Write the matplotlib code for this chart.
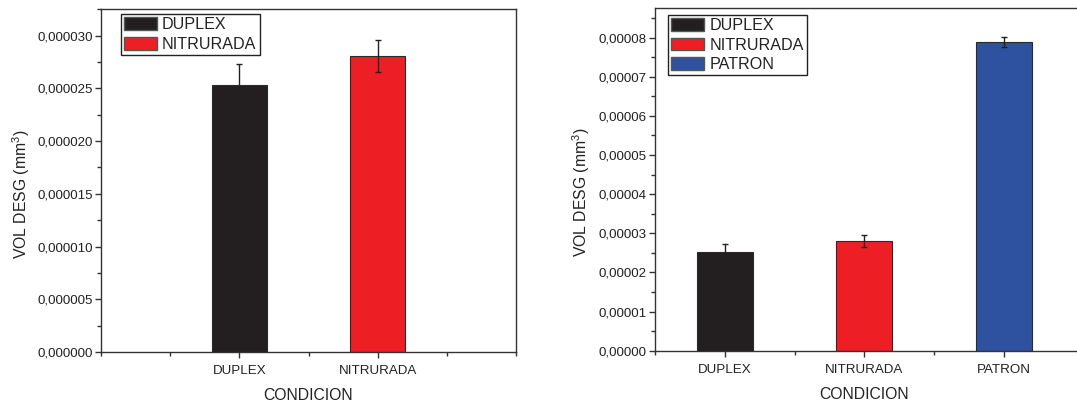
import matplotlib
matplotlib.use("Agg")
import matplotlib.pyplot as plt
from matplotlib.ticker import FuncFormatter, MultipleLocator, FixedLocator
from matplotlib.patches import Patch

# ---- data ----
cats_left = ["DUPLEX", "NITRURADA"]
vals_left = [2.53e-5, 2.81e-5]
errs_left = [2.0e-6, 1.5e-6]

cats_right = ["DUPLEX", "NITRURADA", "PATRON"]
vals_right = [2.53e-5, 2.81e-5, 7.89e-5]
errs_right = [2.0e-6, 1.5e-6, 1.2e-6]

colors = {"DUPLEX": "#231f20", "NITRURADA": "#ed1f24", "PATRON": "#2e52a0"}

plt.rcParams["font.family"] = ["Liberation Sans", "DejaVu Sans"]
plt.rcParams["mathtext.fontset"] = "custom"
plt.rcParams["mathtext.rm"] = "Liberation Sans"
plt.rcParams["mathtext.default"] = "regular"

W, H = 1077, 401
fig = plt.figure(figsize=(W / 100, H / 100), dpi=100)

spine_c = "#333333"
tick_fs = 9.6
lab_fs = 11.3
leg_fs = 11.6


def fmt(decimals):
    return FuncFormatter(lambda v, p: f"{v:.{decimals}f}".replace(".", ","))


def style(ax):
    for s in ax.spines.values():
        s.set_color(spine_c)
        s.set_linewidth(1.0)
    ax.tick_params(axis="both", which="major", direction="out", length=4.3,
                   width=1.0, color=spine_c, labelsize=tick_fs, labelcolor="#222222")
    ax.tick_params(axis="both", which="minor", direction="out", length=2.6,
                   width=1.0, color=spine_c)
    ax.tick_params(axis="y", which="major", pad=1.5)
    ax.tick_params(axis="x", which="major", pad=5)


def draw(ax, cats, vals, errs):
    x = list(range(1, len(cats) + 1))
    ax.bar(x, vals, width=0.4, color=[colors[c] for c in cats],
           edgecolor="#2a2a2a", linewidth=0.8, zorder=2)
    ax.errorbar(x, vals, yerr=errs, fmt="none", ecolor="#231f20",
                elinewidth=1.0, capsize=2.5, capthick=1.0, zorder=3)
    ax.set_xticks(x)
    ax.set_xticklabels(cats)
    ax.set_xlabel("CONDICION", fontsize=lab_fs, color="#222222")
    ax.set_ylabel("VOL DESG (mm$^3$)", fontsize=lab_fs, color="#222222")
    handles = [Patch(facecolor=colors[c], edgecolor="#555555", linewidth=1.0, label=c)
               for c in cats]
    return handles


def legend(ax, handles, anchor):
    leg = ax.legend(handles=handles, loc="upper left", bbox_to_anchor=anchor,
                    borderaxespad=0, fontsize=leg_fs, frameon=True, fancybox=False,
                    framealpha=1, edgecolor="#222222", borderpad=0.2,
                    handlelength=2.05, handleheight=0.82, handletextpad=0.3,
                    labelspacing=0.28)
    leg.get_frame().set_linewidth(1.0)
    for t in leg.get_texts():
        t.set_color("#222222")
    return leg


# ---- left chart ----
axL = fig.add_axes([101 / W, 49 / H, 415 / W, 342.7 / H])
hL = draw(axL, cats_left, vals_left, errs_left)
axL.set_xlim(0, 3)
axL.set_ylim(0, 3.25e-5)
axL.yaxis.set_major_locator(MultipleLocator(5e-6))
axL.yaxis.set_minor_locator(MultipleLocator(2.5e-6))
axL.xaxis.set_minor_locator(FixedLocator([0, 0.5, 1.5, 2.5, 3]))
axL.yaxis.set_major_formatter(fmt(6))
style(axL)
axL.yaxis.set_label_coords(-0.166, 0.46)
axL.xaxis.set_label_coords(0.5, -0.105)
legend(axL, hL, (0.048, 0.986))

# ---- right chart ----
axR = fig.add_axes([655 / W, 50.3 / H, 425 / W, 342.4 / H])
hR = draw(axR, cats_right, vals_right, errs_right)
axR.set_xlim(0.5, 1 + (1080 - 724.3) / 139.7)
axR.set_ylim(0, 8.75e-5)
axR.yaxis.set_major_locator(MultipleLocator(1e-5))
axR.yaxis.set_minor_locator(MultipleLocator(5e-6))
axR.xaxis.set_minor_locator(FixedLocator([0.5, 1.5, 2.5]))
axR.yaxis.set_major_formatter(fmt(5))
axR.spines["right"].set_visible(False)
style(axR)
axR.yaxis.set_label_coords(-0.148, 0.463)
axR.xaxis.set_label_coords(0.492, -0.105)
legend(axR, hR, (0.031, 0.981))

fig.savefig("out.png", dpi=100)
